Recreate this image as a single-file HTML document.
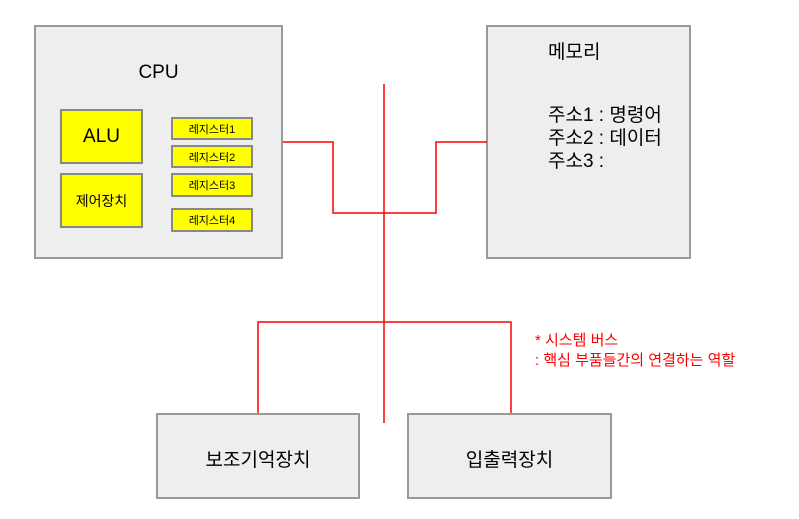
<!DOCTYPE html>
<html><head><meta charset="utf-8"><style>
body{margin:0;background:#fff;width:799px;height:519px;position:relative;overflow:hidden;font-family:"Liberation Sans","Noto Sans CJK KR",sans-serif}
.b{position:absolute;box-sizing:border-box;background:#eeeeee;border:2px solid #999}
.y{position:absolute;box-sizing:border-box;background:#ffff00;border:2px solid #888;display:flex;align-items:center;justify-content:center;color:#000}
.t{position:absolute;white-space:nowrap;color:#000}
</style></head><body>
<div class="b" style="left:34px;top:25px;width:249px;height:234px"></div>
<div class="t" style="left:35px;width:247px;text-align:center;top:62px;font-size:19px">CPU</div>
<div class="y" style="left:60px;top:109px;width:83px;height:55px;font-size:19px">ALU</div>
<div class="y" style="left:60px;top:173px;width:83px;height:55px;font-size:14px">제어장치</div>
<div class="y" style="left:171px;top:117px;width:82px;height:23px;font-size:11px">레지스터1</div>
<div class="y" style="left:171px;top:145px;width:82px;height:23px;font-size:11px">레지스터2</div>
<div class="y" style="left:171px;top:173px;width:82px;height:24px;font-size:11px">레지스터3</div>
<div class="y" style="left:171px;top:208px;width:82px;height:24px;font-size:11px">레지스터4</div>
<div class="b" style="left:486px;top:25px;width:205px;height:234px"></div>
<div class="t" style="left:548px;top:37px;font-size:19px">메모리</div>
<div class="t" style="left:548px;top:104px;font-size:19px;line-height:23px">주소1 : 명령어<br>주소2 : 데이터<br>주소3 :</div>
<div class="b" style="left:156px;top:413px;width:204px;height:86px"></div>
<div class="t" style="left:156px;width:204px;text-align:center;top:445px;font-size:19px">보조기억장치</div>
<div class="b" style="left:407px;top:413px;width:205px;height:86px"></div>
<div class="t" style="left:407px;width:205px;text-align:center;top:445px;font-size:19px">입출력장치</div>
<svg style="position:absolute;left:0;top:0" width="799" height="519">
<g stroke="#ff0000" stroke-width="1.5" fill="none">
<polyline points="283,142 333,142 333,213 436,213 436,142 487,142"/>
<line x1="384" y1="84" x2="384" y2="423"/>
<polyline points="258,413 258,322 511,322 511,413"/>
</g></svg>
<div class="t" style="left:535px;top:331px;font-size:15px;color:#ff0000;line-height:20px">* 시스템 버스<br>: 핵심 부품들간의 연결하는 역할</div>
</body></html>
